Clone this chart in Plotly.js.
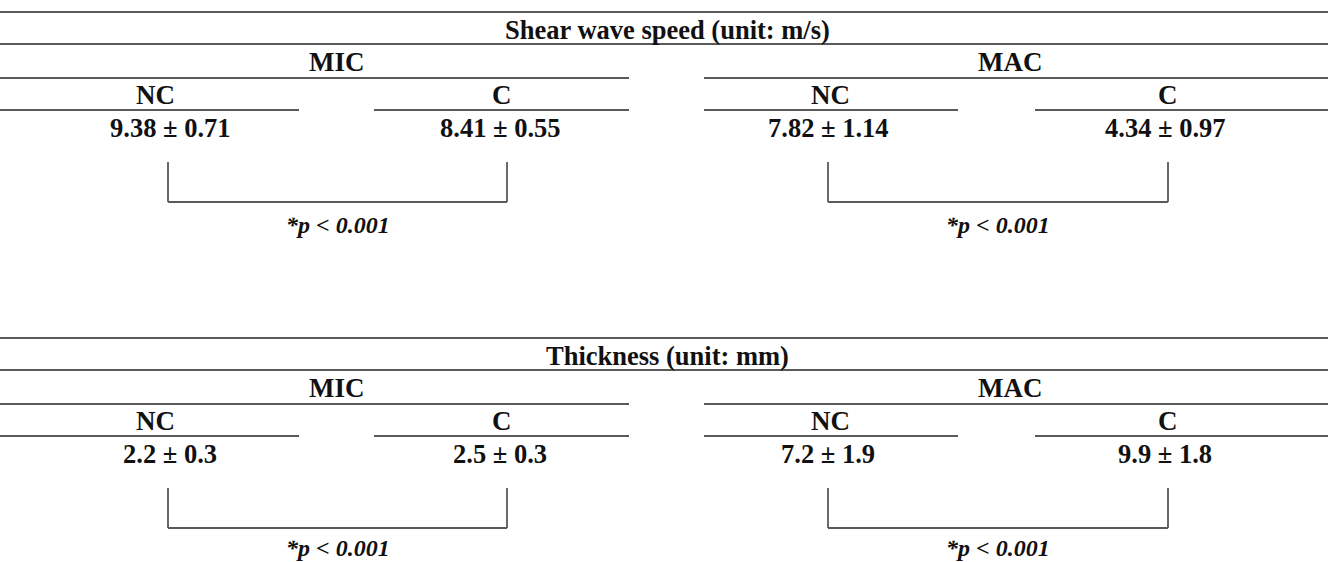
<!DOCTYPE html>
<html>
<head>
<meta charset="utf-8">
<script src="https://cdn.plot.ly/plotly-3.0.1.min.js"></script>
<style>
  html, body { margin: 0; padding: 0; background: #ffffff; }
  #chart { width: 1328px; height: 562px; }
</style>
</head>
<body>
<div id="chart"></div>
<script>
// ---- data ----
const sections = ["Shear wave speed (unit: m/s)", "Thickness (unit: mm)"];
const groups = ["MIC", "MAC"];
const subgroups = ["NC", "C"];
const decimals = [2, 1];
// mean / SD values [group][subgroup]
const swsMean = [[9.38, 8.41], [7.82, 4.34]];
const swsSD   = [[0.71, 0.55], [1.14, 0.97]];
const thkMean = [[2.2, 2.5], [7.2, 9.9]];
const thkSD   = [[0.3, 0.3], [1.9, 1.8]];
const pLabels = [["*p < 0.001", "*p < 0.001"], ["*p < 0.001", "*p < 0.001"]];

const means = [swsMean, thkMean];
const sds = [swsSD, thkSD];

// ---- layout geometry (pixels) ----
const W = 1328, H = 562;
const panelOffset = [0, 326];
const groupTextX = [337, 1010];
const groupLine = [[0, 629], [704, 1328]];
const subTextX = [[155, 502], [830, 1168]];
const subLine = [[[0, 299], [374, 629]], [[704, 958], [1035, 1328]]];
const valueX = [[170, 500], [828, 1165]];
const bracketX = [[168, 507], [828, 1168]];
const pX = [338, 998];
const pY = [225, 222];

const FONT = "'Liberation Serif', 'Times New Roman', serif";
const txtColor = "#111111";
const lineColor = "#5a5a5a";

const shapes = [];
const annotations = [];

function hline(x0, x1, y, w) {
  shapes.push({type: "line", xref: "x", yref: "y", x0: x0, x1: x1, y0: y, y1: y,
    line: {color: lineColor, width: w || 2}});
}
function vline(x, y0, y1, w) {
  shapes.push({type: "line", xref: "x", yref: "y", x0: x, x1: x, y0: y0, y1: y1,
    line: {color: lineColor, width: w || 2}});
}
function text(t, x, y, size) {
  annotations.push({text: t, x: x, y: y, xref: "x", yref: "y", showarrow: false,
    xanchor: "center", yanchor: "middle",
    font: {family: FONT, size: size || 26, color: txtColor}});
}

sections.forEach(function (sec, s) {
  const o = panelOffset[s];
  hline(0, W, 12 + o, 2);
  text("<b>" + sec + "</b>", 667, 30 + o, 26.5);
  hline(0, W, 44 + o, 2);
  groups.forEach(function (g, gi) {
    text("<b>" + g + "</b>", groupTextX[gi], 62 + o, 27);
    hline(groupLine[gi][0], groupLine[gi][1], 78 + o, 2);
    subgroups.forEach(function (sg, si) {
      text("<b>" + sg + "</b>", subTextX[gi][si], 95 + o, 27);
      hline(subLine[gi][si][0], subLine[gi][si][1], 110 + o, 2);
      const m = means[s][gi][si].toFixed(decimals[s]);
      const sd = sds[s][gi][si].toFixed(decimals[s]);
      text("<b>" + m + " \u00B1 " + sd + "</b>", valueX[gi][si], 128 + o, 26.5);
    });
    // bracket
    const bx = bracketX[gi];
    vline(bx[0], 162 + o, 202 + o, 1.8);
    vline(bx[1], 162 + o, 202 + o, 1.8);
    hline(bx[0], bx[1], 202 + o, 1.8);
    text("<b><i>" + pLabels[s][gi].replace("<", "&lt;") + "</i></b>", pX[gi], pY[s] + o, 24);
  });
});

const data = [{x: [], y: [], type: "scatter", mode: "markers", showlegend: false, hoverinfo: "skip"}];

const layout = {
  width: W, height: H,
  margin: {l: 0, r: 0, t: 0, b: 0, pad: 0},
  paper_bgcolor: "#ffffff", plot_bgcolor: "#ffffff",
  xaxis: {range: [0, W], visible: false, fixedrange: true},
  yaxis: {range: [H, 0], visible: false, fixedrange: true},
  showlegend: false,
  shapes: shapes,
  annotations: annotations
};

Plotly.newPlot("chart", data, layout, {displayModeBar: false, staticPlot: true});
</script>
</body>
</html>
